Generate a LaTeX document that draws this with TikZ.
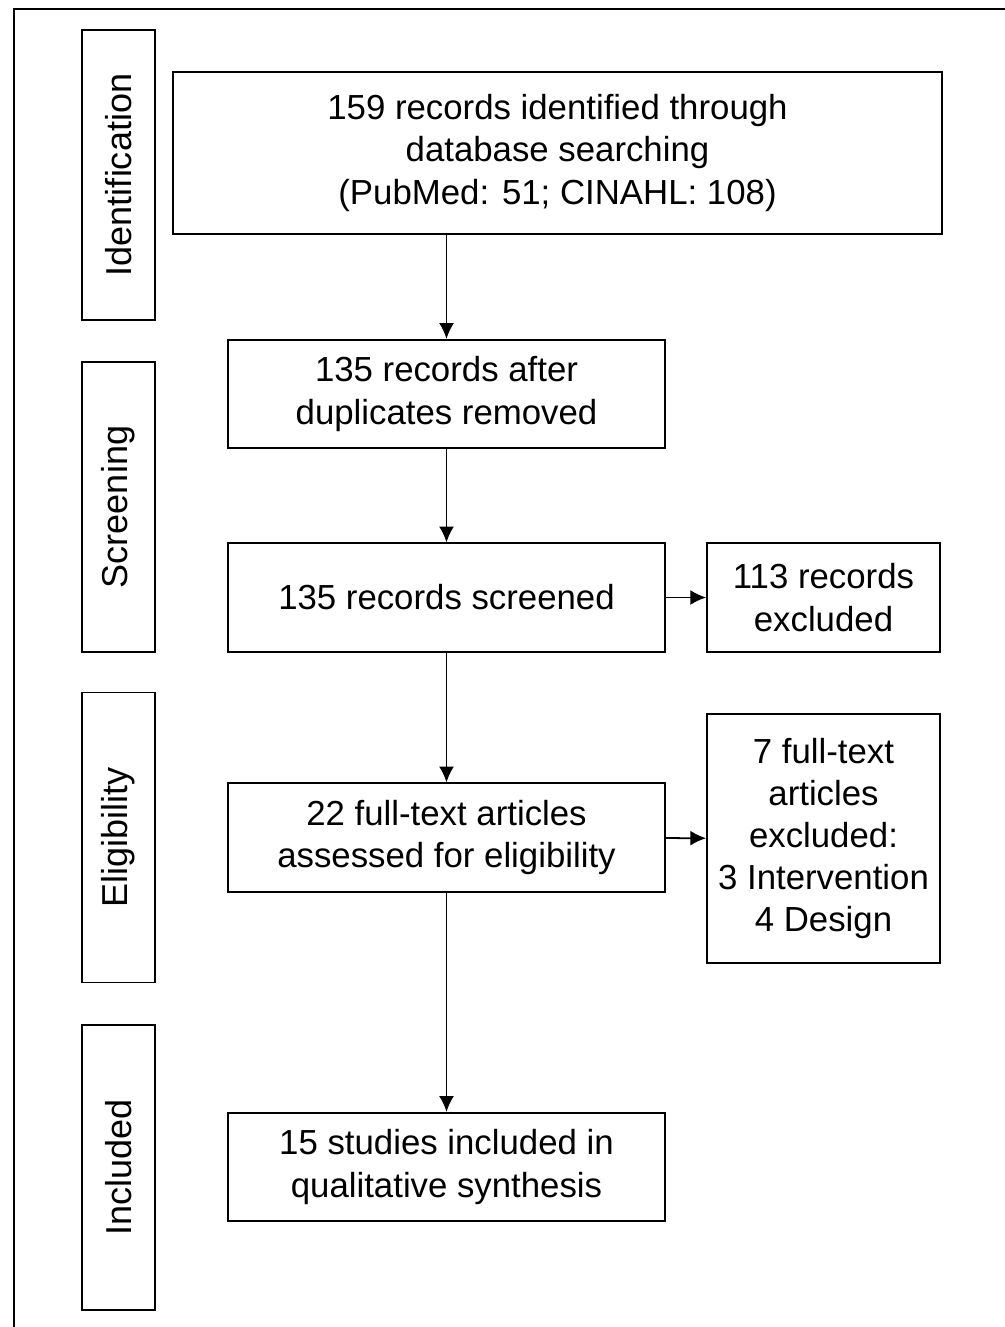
\documentclass[tikz,border=0pt]{standalone}
\usepackage{fontspec}
\setmainfont{Liberation Sans}
\usetikzlibrary{positioning,arrows.meta}

\begin{document}
\begin{tikzpicture}[x=0.02cm,y=-0.02cm,line width=1pt,>={Latex[length=9pt,width=8.5pt]},
	every node/.style={font=\fontsize{19.8}{24}\selectfont,align=center,inner sep=0pt},
	box/.style={draw,minimum width=8.74cm,minimum height=2.17cm},
	side/.style={draw,rotate=90,minimum width=5.8cm,minimum height=1.46cm,font=\fontsize{20.5}{24}\selectfont},
	excl/.style={draw,minimum width=4.66cm}]
			\useasboundingbox (0,0) rectangle (1004,1327);
			\draw (14,1340) rectangle (1020,9);

			\node[side] (P1) at (118.5,175) {Identification};
			\node[side] (P2) at (118.5,507) {Screening};
			\node[side] (P3) at (118.5,837.5) {Eligibility};
			\node[side,minimum width=5.7cm] (P4) at (118.5,1167.5) {Included};

			\node[draw,minimum width=15.38cm,minimum height=3.24cm] (R0) at (557.5,153) {159 records identified through \\ database searching \\ (PubMed: 51; CINAHL: 108)};
			\node[box] (R1) at (446.5,394) {135 records after \\ duplicates removed};
			\node[box] (R2) at (446.5,597.5) {135 records screened};
			\node[excl,minimum height=2.18cm] (X1) at (823.5,597.5) {113 records \\ excluded};
			\node[box] (R3) at (446.5,837.5) {22 full-text articles \\ assessed for eligibility};
			\node[excl,minimum height=4.98cm] (X2) at (823.5,838.5) {7 full-text \\ articles \\ excluded: \\ 3 Intervention \\ 4 Design};
			\node[box] (R4) at (446.5,1167) {15 studies included in \\ qualitative synthesis};

			\draw[->] (R0.south -| R1) -- (R1);
			\path[->] (R1) edge (R2)
						 (R2) edge (R3)
						 (R3) edge (R4)
						 (R2) edge (X1)
						 (R3) edge (X2);
		\end{tikzpicture}
\end{document}
